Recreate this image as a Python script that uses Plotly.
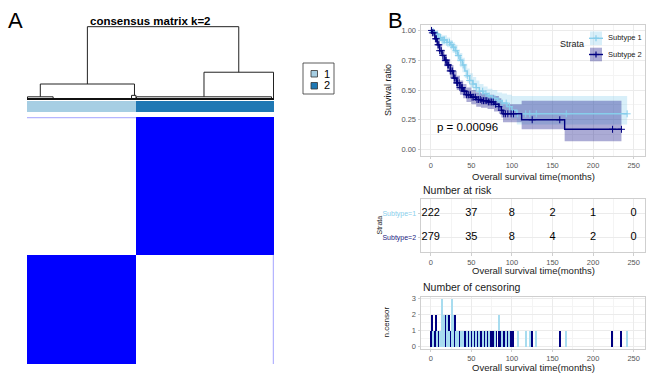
import numpy as np
import plotly.graph_objects as go

W, H = 649, 380
FONT = "Liberation Sans, Arial, sans-serif"

# ---------------- data ----------------
cluster_labels = ["1", "2"]
cluster_sizes = [222, 279]
cluster_colors = ["#a6cee3", "#1f78b4"]

# dendrogram links: left x, right x, left child height, right child height, join height
link_xl = [1, 212, 27, 222, 359, 122.5]
link_xr = [53, 221, 218, 496, 500, 429.5]
link_hl = [0.0, 0.0, 0.03, 0.0, 0.03, 0.207]
link_hr = [0.0, 0.0, 0.05, 0.0, 0.0, 0.37]
link_h = [0.03, 0.05, 0.207, 0.03, 0.37, 1.0]

# consensus matrix (block level)
consensus = [[1.0, 0.0], [0.0, 1.0]]

# Kaplan-Meier, Subtype 1
km1_t = [0, 3, 6, 10, 14, 20, 24, 27, 30, 33, 36, 39, 42, 45, 48, 52, 56, 60, 65, 70, 76, 82, 88, 94, 100, 106, 242]
km1_s = [1.00, 0.99, 0.97, 0.94, 0.92, 0.90, 0.88, 0.86, 0.83, 0.79, 0.75, 0.71, 0.66, 0.62, 0.58, 0.55, 0.52, 0.49, 0.47, 0.45, 0.43, 0.41, 0.39, 0.36, 0.33, 0.30, 0.30]
km1_lo = [1.00, 0.98, 0.95, 0.91, 0.88, 0.86, 0.84, 0.81, 0.78, 0.74, 0.69, 0.65, 0.60, 0.56, 0.52, 0.49, 0.46, 0.43, 0.41, 0.39, 0.36, 0.34, 0.32, 0.29, 0.26, 0.21, 0.21]
km1_hi = [1.00, 1.00, 0.99, 0.97, 0.96, 0.94, 0.92, 0.90, 0.88, 0.84, 0.81, 0.77, 0.72, 0.68, 0.64, 0.61, 0.58, 0.55, 0.53, 0.51, 0.50, 0.48, 0.47, 0.46, 0.45, 0.45, 0.45]

# Kaplan-Meier, Subtype 2
km2_t = [0, 2, 5, 8, 11, 14, 17, 20, 24, 28, 32, 36, 40, 44, 50, 56, 62, 70, 78, 84, 87, 89, 112, 165, 235]
km2_s = [1.00, 0.98, 0.93, 0.88, 0.83, 0.79, 0.75, 0.71, 0.66, 0.60, 0.56, 0.52, 0.49, 0.46, 0.44, 0.42, 0.41, 0.40, 0.38, 0.36, 0.33, 0.30, 0.25, 0.17, 0.17]
km2_lo = [1.00, 0.96, 0.90, 0.84, 0.79, 0.74, 0.70, 0.66, 0.60, 0.55, 0.50, 0.46, 0.43, 0.40, 0.38, 0.36, 0.35, 0.34, 0.32, 0.30, 0.27, 0.23, 0.17, 0.07, 0.07]
km2_hi = [1.00, 1.00, 0.96, 0.92, 0.88, 0.84, 0.80, 0.76, 0.71, 0.66, 0.62, 0.58, 0.55, 0.52, 0.50, 0.48, 0.47, 0.46, 0.45, 0.43, 0.41, 0.38, 0.41, 0.41, 0.41]

# censoring times / counts
cens1_t = [3, 8, 12, 14, 16, 17, 20, 23, 26, 28, 31, 34, 37, 40, 45, 48, 52, 56, 60, 64, 68, 72, 79, 84, 88, 93, 97, 107, 117, 122, 130, 167, 242]
cens1_n = [1, 1, 1, 3, 2, 1, 2, 1, 3, 2, 1, 1, 1, 1, 1, 1, 1, 1, 1, 1, 1, 1, 1, 1, 1, 1, 1, 1, 1, 1, 1, 1, 1]
cens2_t = [1, 2, 4, 6, 7, 9, 10, 11, 13, 15, 18, 19, 21, 22, 24, 25, 27, 29, 30, 32, 33, 35, 36, 38, 39, 41, 42, 44, 46, 47, 49, 51, 53, 55, 57, 59, 61, 63, 65, 67, 69, 71, 73, 75, 77, 80, 84, 87, 90, 92, 95, 99, 102, 125, 159, 224, 235]
cens2_n = [1, 2, 1, 2, 1, 1, 1, 1, 1, 1, 2, 1, 1, 2, 1, 1, 1, 1, 2, 1, 1, 1, 1, 1, 1, 1, 1, 1, 1, 1, 1, 1, 1, 1, 1, 1, 1, 1, 1, 1, 1, 1, 1, 1, 1, 1, 1, 1, 1, 1, 1, 1, 1, 1, 1, 1, 1]

risk_times = [0, 50, 100, 150, 200, 250]
risk1 = [222, 37, 8, 2, 1, 0]
risk2 = [279, 35, 8, 4, 2, 0]
strata_names = ["Subtype 1", "Subtype 2"]
strata_ticks = ["Subtype=1", "Subtype=2"]
p_text = "p = 0.00096"

COL1 = "#87CEEB"
COL2 = "#000080"
BAND1 = "rgba(135,206,235,0.32)"
BAND2 = "rgba(0,0,128,0.33)"

# --------------- helpers ---------------
def px(x):
    return x / W

def py(y):
    return 1 - y / H

def dom_x(a, b):
    return [px(a), px(b)]

def dom_y(top, bottom):
    return [py(bottom), py(top)]

fig = go.Figure()

# ---------------- panel A ----------------
N = sum(cluster_sizes)
edges = [0, cluster_sizes[0], N]

for xl, xr, hl, hr, h in zip(link_xl, link_xr, link_hl, link_hr, link_h):
    fig.add_trace(go.Scatter(x=[xl, xl, xr, xr], y=[hl, h, h, hr], mode="lines",
                             line=dict(color="#222222", width=1), xaxis="x", yaxis="y",
                             showlegend=False, hoverinfo="skip"))
fig.add_trace(go.Scatter(x=[edges[0], edges[-1]], y=[0, 0], mode="lines",
                         line=dict(color="#111111", width=2), xaxis="x", yaxis="y",
                         showlegend=False, hoverinfo="skip"))

fig.add_trace(go.Heatmap(z=[[0, 1]], x=edges, y=[0, 1], xaxis="x2", yaxis="y2",
                         colorscale=[[0, cluster_colors[0]], [1, cluster_colors[1]]],
                         showscale=False, zmin=0, zmax=1, hoverinfo="skip"))

fig.add_trace(go.Heatmap(z=consensus, x=edges, y=edges, xaxis="x3", yaxis="y3",
                         colorscale=[[0, "#ffffff"], [1, "#0000ff"]],
                         showscale=False, zmin=0, zmax=1, hoverinfo="skip"))

# ---------------- panel B: KM ----------------
def band(t, lo, hi, col, ax, ay):
    fig.add_trace(go.Scatter(x=t, y=lo, mode="lines", line=dict(width=0, shape="hv"),
                             xaxis=ax, yaxis=ay, showlegend=False, hoverinfo="skip"))
    fig.add_trace(go.Scatter(x=t, y=hi, mode="lines", line=dict(width=0, shape="hv"),
                             fill="tonexty", fillcolor=col, xaxis=ax, yaxis=ay,
                             showlegend=False, hoverinfo="skip"))

band(km1_t, km1_lo, km1_hi, BAND1, "x4", "y4")
band(km2_t, km2_lo, km2_hi, BAND2, "x4", "y4")

def step_at(t, s, q):
    idx = np.searchsorted(np.array(t), np.array(q), side="right") - 1
    return [s[i] for i in idx]

for t, s, ct, col in [(km1_t, km1_s, cens1_t, COL1), (km2_t, km2_s, cens2_t, COL2)]:
    fig.add_trace(go.Scatter(x=t, y=s, mode="lines", line=dict(color=col, width=1.4, shape="hv"),
                             xaxis="x4", yaxis="y4", showlegend=False, hoverinfo="skip"))
    fig.add_trace(go.Scatter(x=ct, y=step_at(t, s, ct), mode="markers",
                             marker=dict(symbol="cross-thin", size=5, line=dict(color=col, width=1)),
                             xaxis="x4", yaxis="y4", showlegend=False, hoverinfo="skip"))

# ---------------- risk table ----------------
for vals, row in [(risk1, 2), (risk2, 1)]:
    fig.add_trace(go.Scatter(x=risk_times, y=[row] * len(risk_times), mode="text",
                             text=[str(v) for v in vals], textposition="middle center",
                             textfont=dict(family=FONT, size=11, color="#000000"),
                             xaxis="x5", yaxis="y5", showlegend=False, hoverinfo="skip"))

# ---------------- censoring bars ----------------
fig.add_trace(go.Bar(x=cens2_t, y=cens2_n, width=1.4, marker=dict(color=COL2, line=dict(width=0)),
                     xaxis="x6", yaxis="y6", showlegend=False, hoverinfo="skip"))
fig.add_trace(go.Bar(x=cens1_t, y=cens1_n, width=1.4, marker=dict(color="#a8dcef", line=dict(width=0)),
                     xaxis="x6", yaxis="y6", showlegend=False, hoverinfo="skip"))

# ---------------- layout ----------------
GRID = "#ebebeb"
MINOR = "#f4f4f4"
BORDER = "#cfcfcf"
tickf = dict(family=FONT, size=7.5, color="#555555")

def hidden(domain, rng, anchor):
    return dict(domain=domain, range=rng, anchor=anchor, visible=False, showgrid=False,
                zeroline=False, automargin=False)

def gg_x(domain, anchor):
    return dict(domain=domain, range=[-12, 264], anchor=anchor, tickvals=risk_times, ticks="outside",
                ticklen=2.5, tickcolor=BORDER, tickfont=tickf, showgrid=True, gridcolor=GRID, gridwidth=0.8,
                minor=dict(dtick=25, tick0=0, showgrid=True, gridcolor=MINOR, gridwidth=0.6),
                showline=True, linecolor=BORDER, linewidth=1, mirror=True, zeroline=False, automargin=False)

def gg_y(domain, rng, anchor, **kw):
    d = dict(domain=domain, range=rng, anchor=anchor, ticks="outside", ticklen=2.5, tickcolor=BORDER,
             tickfont=tickf, showgrid=True, gridcolor=GRID, gridwidth=0.8,
             showline=True, linecolor=BORDER, linewidth=1, mirror=True, zeroline=False, automargin=False)
    d.update(kw)
    return d

KX = dom_x(421, 645)
layout = dict(
    width=W, height=H, autosize=False, margin=dict(l=0, r=0, t=0, b=0, autoexpand=False),
    paper_bgcolor="white", plot_bgcolor="white", barmode="stack", bargap=0,
    font=dict(family=FONT),
    xaxis=hidden(dom_x(27, 274), [0, N], "y"),
    yaxis=hidden(dom_y(24, 101), [-0.028, 1.037], "x"),
    xaxis2=hidden(dom_x(27, 274), [0, N], "y2"),
    yaxis2=hidden(dom_y(101, 112), [0, 1], "x2"),
    xaxis3=hidden(dom_x(27, 274), [0, N], "y3"),
    yaxis3=hidden(dom_y(117, 364), [0, N], "x3"),
    xaxis4=gg_x(KX, "y4"),
    yaxis4=gg_y(dom_y(24.5, 155.5), [-0.05, 1.05], "x4", tickvals=[0, 0.25, 0.5, 0.75, 1.0],
                ticktext=["0.00", "0.25", "0.50", "0.75", "1.00"],
                minor=dict(dtick=0.125, tick0=0, showgrid=True, gridcolor=MINOR, gridwidth=0.6)),
    xaxis5=gg_x(KX, "y5"),
    yaxis5=gg_y(dom_y(199, 252), [0.4, 2.6], "x5", tickvals=[2, 1],
                ticktext=["<span style='color:%s'>%s</span>" % (COL1, strata_ticks[0]),
                          "<span style='color:#1a1a80'>%s</span>" % strata_ticks[1]],
                tickfont=dict(family=FONT, size=7)),
    xaxis6=gg_x(KX, "y6"),
    yaxis6=gg_y(dom_y(296.5, 348.5), [-0.15, 3.15], "x6", tickvals=[0, 1, 2, 3],
                minor=dict(dtick=0.5, tick0=0, showgrid=True, gridcolor=MINOR, gridwidth=0.6)),
)
fig.update_layout(**layout)

ann = []
def text(x, y, s, size, color="#000000", xa="center", ya="middle", angle=0, bold=False):
    ann.append(dict(x=px(x), y=py(y), xref="paper", yref="paper", text=("<b>%s</b>" % s) if bold else s,
                    showarrow=False, xanchor=xa, yanchor=ya, textangle=angle,
                    font=dict(family=FONT, size=size, color=color)))

text(15, 21, "A", 22)
text(395, 21, "B", 22)
text(150, 21, "consensus matrix k=2", 11.5, bold=True)
text(327, 73.5, cluster_labels[0], 11)
text(327, 85.5, cluster_labels[1], 11)

text(388, 90, "Survival ratio", 9, color="#1a1a1a", angle=-90)
text(533, 176, "Overall survival time(months)", 9.5, color="#1a1a1a")
ann.append(dict(x=5, y=0.19, xref="x4", yref="y4", text=p_text, showarrow=False, xanchor="left",
                yanchor="middle", font=dict(family=FONT, size=11.5, color="#000000")))
text(572, 44, "Strata", 9, color="#1a1a1a")
text(606, 37.7, strata_names[0], 7.5, color="#1a1a1a", xa="left")
text(606, 54.3, strata_names[1], 7.5, color="#1a1a1a", xa="left")

text(421, 190, "Number at risk", 10.5, color="#1a1a1a", xa="left")
text(379, 225.5, "Strata", 7, color="#1a1a1a", angle=-90)
text(533, 270.5, "Overall survival time(months)", 9.5, color="#1a1a1a")

text(421, 287, "Number of censoring", 10.5, color="#1a1a1a", xa="left")
text(386, 322.5, "n.censor", 8, color="#1a1a1a", angle=-90)
text(533, 367.5, "Overall survival time(months)", 9.5, color="#1a1a1a")
fig.update_layout(annotations=ann)

shapes = []
def rect(x0, y0, x1, y1, fill, line="rgba(0,0,0,0)", lw=0):
    shapes.append(dict(type="rect", xref="paper", yref="paper", x0=px(x0), x1=px(x1), y0=py(y1), y1=py(y0),
                       fillcolor=fill, line=dict(color=line, width=lw)))

def seg(x0, y0, x1, y1, color, lw):
    shapes.append(dict(type="line", xref="paper", yref="paper", x0=px(x0), x1=px(x1), y0=py(y0), y1=py(y1),
                       line=dict(color=color, width=lw)))

# faint consensus edges of the matrix (derived from cluster sizes)
shapes.append(dict(type="line", xref="x3", yref="y3", x0=edges[0], x1=edges[1], y0=N - 1, y1=N - 1,
                   line=dict(color="rgba(90,90,255,0.45)", width=1.5)))
shapes.append(dict(type="line", xref="x3", yref="y3", x0=N - 1, x1=N - 1, y0=edges[0], y1=edges[1],
                   line=dict(color="rgba(90,90,255,0.45)", width=1.5)))

# legend panel A
rect(303, 63, 334, 94, "white", "#333333", 0.8)
rect(311, 70.5, 317.5, 77, cluster_colors[0], "#333333", 0.8)
rect(311, 82.5, 317.5, 89, cluster_colors[1], "#333333", 0.8)

# legend KM
for yc, fillc, col in [(38.3, BAND1, COL1), (54.5, BAND2, COL2)]:
    rect(590, yc - 6.8, 602, yc + 6.8, fillc)
    seg(589, yc, 603, yc, col, 1.4)
    seg(596, yc - 3, 596, yc + 3, col, 1.2)
    seg(593, yc, 599, yc, col, 1.2)

fig.update_layout(shapes=shapes)
fig.write_html("out.html", config={"displayModeBar": False},
               post_script="document.body.style.margin='0';document.body.style.padding='0';")
